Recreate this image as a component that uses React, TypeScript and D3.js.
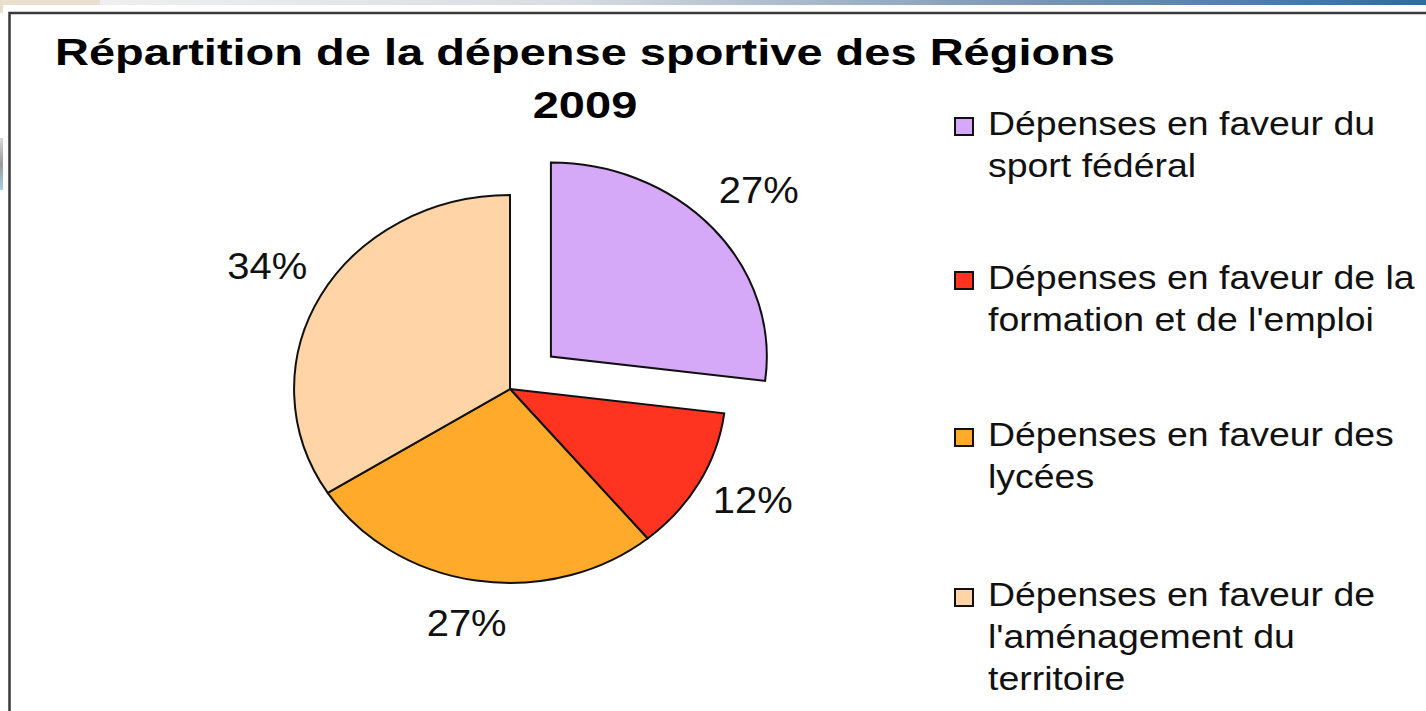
import React from "react";
import * as d3 from "d3";

const title = "Répartition de la dépense sportive des Régions";
const subtitle = "2009";
const categories = [
  "Dépenses en faveur du sport fédéral",
  "Dépenses en faveur de la formation et de l'emploi",
  "Dépenses en faveur des lycées",
  "Dépenses en faveur de l'aménagement du territoire",
];
const legendLines = [
  ["Dépenses en faveur du", "sport fédéral"],
  ["Dépenses en faveur de la", "formation et de l'emploi"],
  ["Dépenses en faveur des", "lycées"],
  ["Dépenses en faveur de", "l'aménagement du", "territoire"],
];
const values = [27, 12, 27, 34];
const colors = ["#D5A9F8", "#FF3420", "#FFAA2B", "#FFD5A8"];
const exploded = [true, false, false, false];

const W = 1426;
const H = 711;
const cx = 510;
const cy = 389;
const R = 194;
const SX = 1.113;
const EXPLODE = 49;
const LABEL_R = 243;
const LABEL_SX = 1.14;
const FONT = "'Liberation Sans', Arial, Helvetica, sans-serif";

export default function App() {
  const pie = d3
    .pie<number>()
    .sort(null)
    .value((d) => d)
    .startAngle(0)
    .endAngle(2 * Math.PI);
  const arcs = pie(values);
  const arc = d3.arc<d3.PieArcDatum<number>>().innerRadius(0).outerRadius(R);

  const legendX = 954;
  const legendTextX = 988;
  const legendBaselines = [135, 289, 446, 606];
  const lineH = 42;

  return (
    <svg
      width={W}
      height={H}
      style={{ position: "absolute", left: 0, top: 0, background: "#fff" }}
    >
      <defs>
        <linearGradient id="topbar" x1="0" x2="1" y1="0" y2="0">
          <stop offset="0" stopColor="#efefef" />
          <stop offset="0.35" stopColor="#d9dde2" />
          <stop offset="0.68" stopColor="#7f9bb7" />
          <stop offset="1" stopColor="#33699c" />
        </linearGradient>
        <linearGradient id="leftblob" x1="0" x2="0" y1="0" y2="1">
          <stop offset="0" stopColor="#d8d8d8" />
          <stop offset="0.5" stopColor="#9a9a9a" />
          <stop offset="1" stopColor="#a8cfe0" />
        </linearGradient>
      </defs>
      {/* top strip */}
      <rect x={100} y={0} width={W - 100} height={5} fill="url(#topbar)" />
      <rect x={0} y={0} width={100} height={5} fill="#e9dfcd" />
      <rect x={0} y={0} width={3} height={13} fill="#e9dfcd" />
      <rect x={0} y={138} width={3} height={52} fill="url(#leftblob)" />
      {/* frame */}
      <rect
        x={9.5}
        y={13}
        width={W + 20}
        height={H + 20}
        fill="none"
        stroke="#3a3a3a"
        strokeWidth={2.5}
      />

      {/* title */}
      <g transform={`translate(585,65) scale(1.27,1)`}>
        <text
          x={0}
          y={0}
          textAnchor="middle"
          fontFamily={FONT}
          fontWeight="bold"
          fontSize={37}
          fill="#000"
        >
          {title}
        </text>
      </g>
      <g transform={`translate(585,118) scale(1.27,1)`}>
        <text
          x={0}
          y={0}
          textAnchor="middle"
          fontFamily={FONT}
          fontWeight="bold"
          fontSize={37}
          fill="#000"
        >
          {subtitle}
        </text>
      </g>

      {/* pie */}
      <g transform={`translate(${cx},${cy}) scale(${SX},1)`}>
        {arcs.map((a, i) => {
          const mid = (a.startAngle + a.endAngle) / 2;
          const off = exploded[i] ? EXPLODE : 0;
          const dx = off * Math.sin(mid);
          const dy = -off * Math.cos(mid);
          return (
            <path
              key={categories[i]}
              d={arc(a) || ""}
              transform={`translate(${dx},${dy})`}
              fill={colors[i]}
              stroke="#111"
              strokeWidth={2}
              strokeLinejoin="miter"
              vectorEffect="non-scaling-stroke"
            />
          );
        })}
      </g>

      {/* percentage labels */}
      {arcs.map((a, i) => {
        const mid = (a.startAngle + a.endAngle) / 2;
        const off = exploded[i] ? EXPLODE : 0;
        const x =
          cx + LABEL_SX * LABEL_R * Math.sin(mid) + SX * off * Math.sin(mid);
        const y = cy - (LABEL_R + off) * Math.cos(mid);
        return (
          <g key={"lbl" + i} transform={`translate(${x},${y}) scale(1.08,1)`}>
            <text
              x={0}
              y={7}
              textAnchor="middle"
              fontFamily={FONT}
              fontSize={37}
              fill="#111"
            >
              {`${values[i]}%`}
            </text>
          </g>
        );
      })}

      {/* legend */}
      {legendLines.map((lines, i) => {
        const b = legendBaselines[i];
        return (
          <g key={"leg" + i}>
            <rect
              x={legendX + 1}
              y={b - 17}
              width={18}
              height={17}
              fill={colors[i]}
              stroke="#111"
              strokeWidth={2}
            />
            {lines.map((ln, j) => (
              <g
                key={j}
                transform={`translate(${legendTextX},${b + j * lineH}) scale(1.135,1)`}
              >
                <text x={0} y={0} fontFamily={FONT} fontSize={33} fill="#111">
                  {ln}
                </text>
              </g>
            ))}
          </g>
        );
      })}
    </svg>
  );
}
